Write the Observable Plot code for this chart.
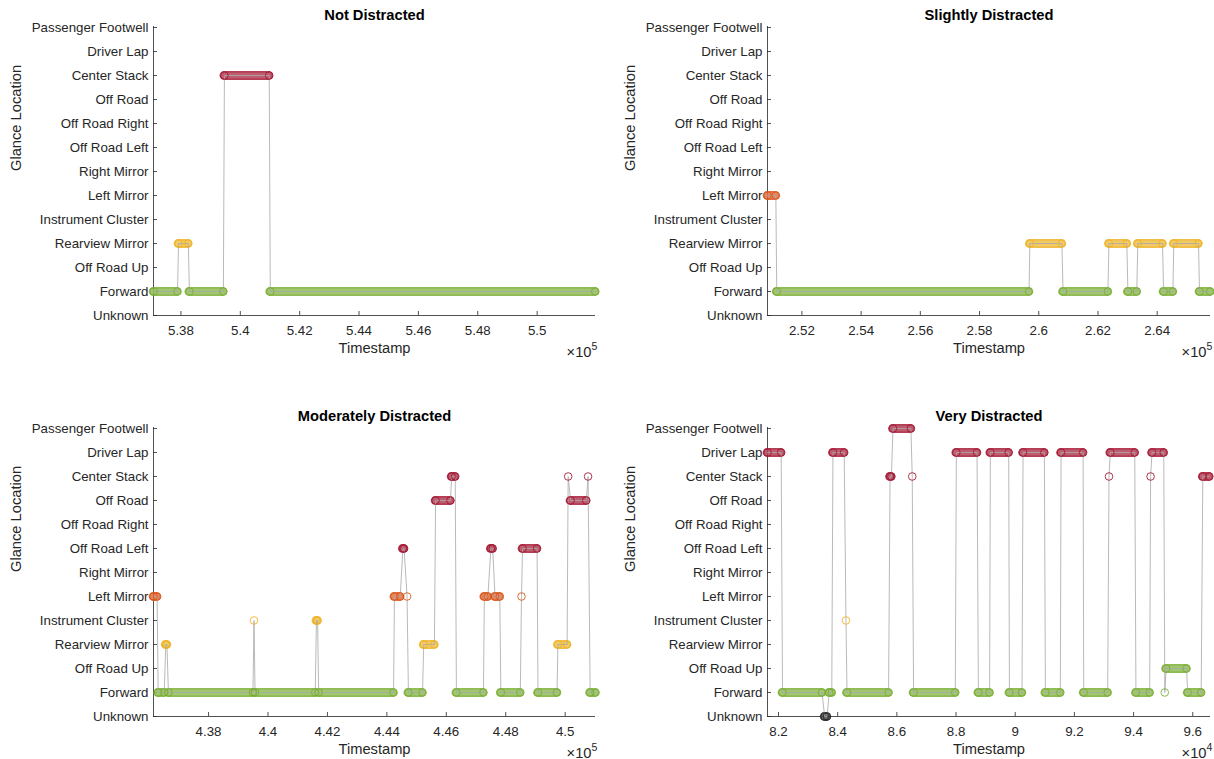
<!DOCTYPE html>
<html>
<head>
<meta charset="utf-8">
<script src="https://cdn.jsdelivr.net/npm/d3@7"></script>
<script src="https://cdn.jsdelivr.net/npm/@observablehq/plot@0.6"></script>
<style>
html, body { margin: 0; padding: 0; background: #fff; width: 1214px; height: 759px; overflow: hidden; }
#fig { position: relative; width: 1214px; height: 759px; }
.panel { position: absolute; }
svg { overflow: visible; }
</style>
</head>
<body>
<div id="fig"></div>
<script>
// ---------- categories (top to bottom) ----------
const LOCATIONS = [
  "Passenger Footwell", "Driver Lap", "Center Stack", "Off Road", "Off Road Right",
  "Off Road Left", "Right Mirror", "Left Mirror", "Instrument Cluster",
  "Rearview Mirror", "Off Road Up", "Forward", "Unknown"
];

// ---------- glance runs: [first timestamp, last timestamp, location] ----------
const NOT_DISTRACTED = [
  [537080, 537885, "Forward"],
  [537920, 538250, "Rearview Mirror"],
  [538285, 539430, "Forward"],
  [539465, 540975, "Center Stack"],
  [541010, 551960, "Forward"]
];

const SLIGHTLY_DISTRACTED = [
  [250840, 251120, "Left Mirror"],
  [251150, 259670, "Forward"],
  [259700, 260780, "Rearview Mirror"],
  [260820, 262335, "Forward"],
  [262370, 262975, "Rearview Mirror"],
  [263010, 263310, "Forward"],
  [263345, 264180, "Rearview Mirror"],
  [264215, 264530, "Forward"],
  [264560, 265395, "Rearview Mirror"],
  [265430, 265790, "Forward"]
];

const MODERATELY_DISTRACTED = [
  [436150, 436270, "Left Mirror"],
  [436305, 436510, "Forward"],
  [436560, 436600, "Rearview Mirror"],
  [436650, 439495, "Forward"],
  [439530, 439530, "Instrument Cluster"],
  [439565, 441590, "Forward"],
  [441630, 441670, "Instrument Cluster"],
  [441705, 444225, "Forward"],
  [444255, 444450, "Left Mirror"],
  [444540, 444580, "Off Road Left"],
  [444680, 444680, "Left Mirror"],
  [444725, 445200, "Forward"],
  [445240, 445600, "Rearview Mirror"],
  [445640, 446140, "Off Road"],
  [446180, 446300, "Center Stack"],
  [446340, 447250, "Forward"],
  [447280, 447400, "Left Mirror"],
  [447500, 447560, "Off Road Left"],
  [447640, 447800, "Left Mirror"],
  [447835, 448490, "Forward"],
  [448530, 448530, "Left Mirror"],
  [448565, 449055, "Off Road Left"],
  [449085, 449725, "Forward"],
  [449755, 450065, "Rearview Mirror"],
  [450100, 450100, "Center Stack"],
  [450180, 450710, "Off Road"],
  [450770, 450770, "Center Stack"],
  [450840, 451020, "Forward"]
];

const VERY_DISTRACTED = [
  [81630, 82090, "Driver Lap"],
  [82135, 83470, "Forward"],
  [83560, 83640, "Unknown"],
  [83715, 83800, "Forward"],
  [83840, 84220, "Driver Lap"],
  [84280, 84280, "Instrument Cluster"],
  [84315, 85720, "Forward"],
  [85770, 85815, "Center Stack"],
  [85870, 86475, "Passenger Footwell"],
  [86520, 86520, "Center Stack"],
  [86565, 87975, "Forward"],
  [88010, 88710, "Driver Lap"],
  [88755, 89135, "Forward"],
  [89160, 89780, "Driver Lap"],
  [89805, 90230, "Forward"],
  [90265, 90985, "Driver Lap"],
  [91020, 91525, "Forward"],
  [91550, 92295, "Driver Lap"],
  [92315, 93125, "Forward"],
  [93170, 93170, "Center Stack"],
  [93215, 94040, "Driver Lap"],
  [94080, 94545, "Forward"],
  [94575, 94575, "Center Stack"],
  [94625, 95020, "Driver Lap"],
  [95055, 95055, "Forward"],
  [95100, 95790, "Off Road Up"],
  [95830, 96285, "Forward"],
  [96340, 96560, "Center Stack"]
];

// ---------- panel titles, axis ranges and tick labels ----------
const TITLES = ["Not Distracted", "Slightly Distracted", "Moderately Distracted", "Very Distracted"];
const X_DOMAINS = [[537076, 551966], [250838, 265800], [436148, 451020], [81628, 96600]];
const X_TICKS = [
  [538000, 540000, 542000, 544000, 546000, 548000, 550000],
  [252000, 254000, 256000, 258000, 260000, 262000, 264000],
  [438000, 440000, 442000, 444000, 446000, 448000, 450000],
  [82000, 84000, 86000, 88000, 90000, 92000, 94000, 96000]
];
const X_TICK_LABELS = [
  ["5.38", "5.4", "5.42", "5.44", "5.46", "5.48", "5.5"],
  ["2.52", "2.54", "2.56", "2.58", "2.6", "2.62", "2.64"],
  ["4.38", "4.4", "4.42", "4.44", "4.46", "4.48", "4.5"],
  ["8.2", "8.4", "8.6", "8.8", "9", "9.2", "9.4", "9.6"]
];
const X_EXPONENTS = ["5", "5", "5", "4"];
const X_LABEL = "Timestamp";
const Y_LABEL = "Glance Location";

// ---------- styles ----------
const GREEN = "#77AC30", YELLOW = "#EDB120", ORANGE = "#D95319", RED = "#A2142F", BLACK = "#262626";
const LOCATION_COLORS = [RED, RED, RED, RED, RED, RED, ORANGE, ORANGE, YELLOW, YELLOW, GREEN, GREEN, BLACK];
const TEXT_COLOR = "#262626";
const FONT = "'Liberation Sans', Arial, Helvetica, sans-serif";

const ALL_RUNS = [NOT_DISTRACTED, SLIGHTLY_DISTRACTED, MODERATELY_DISTRACTED, VERY_DISTRACTED];
const LAYOUT = [
  {left: 0,   top: 0,   ml: 153, mr: 12},
  {left: 607, top: 0,   ml: 160, mr: 4},
  {left: 0,   top: 401, ml: 153, mr: 12},
  {left: 607, top: 401, ml: 160, mr: 4}
];

const fig = document.getElementById("fig");

ALL_RUNS.forEach((runs, i) => {
  const L = LAYOUT[i];
  const runObjs = runs.map(([s, e, loc]) => ({s, e, loc}));
  const pts = [];
  runObjs.forEach(r => {
    pts.push({t: r.s, loc: r.loc});
    if (r.e !== r.s) pts.push({t: r.e, loc: r.loc});
  });
  const bands = runObjs.filter(r => r.e > r.s);
  const tickMap = new Map(X_TICKS[i].map((v, k) => [v, X_TICK_LABELS[i][k]]));
  const dom = X_DOMAINS[i];

  const chart = Plot.plot({
    width: 607,
    height: 358,
    marginLeft: L.ml,
    marginRight: L.mr,
    marginTop: 26,
    marginBottom: 43,
    style: {fontFamily: FONT, fontSize: "13.3px", color: TEXT_COLOR, background: "transparent", overflow: "visible"},
    x: {domain: dom, axis: null},
    y: {type: "point", domain: LOCATIONS, padding: 0, axis: null},
    color: {type: "ordinal", domain: LOCATIONS, range: LOCATION_COLORS},
    marks: [
      // axis lines
      Plot.ruleX([dom[0]], {stroke: TEXT_COLOR, strokeWidth: 0.8}),
      Plot.ruleY(["Unknown"], {stroke: TEXT_COLOR, strokeWidth: 0.8}),
      // inward ticks
      Plot.axisY({tickSize: 4, dx: 4, tickFormat: () => "", label: null, stroke: TEXT_COLOR, strokeWidth: 0.8}),
      Plot.axisX({ticks: X_TICKS[i], tickSize: 4, dy: -4, tickFormat: () => "", label: null, stroke: TEXT_COLOR, strokeWidth: 0.8}),
      // tick labels
      Plot.axisY({tickSize: 0, tickPadding: 5, label: null, fontSize: 13.3, fill: TEXT_COLOR}),
      Plot.axisX({ticks: X_TICKS[i], tickSize: 0, tickPadding: 10, label: null, fontSize: 13.3, fill: TEXT_COLOR,
                  tickFormat: d => tickMap.get(d)}),
      // dense sample bands
      Plot.ruleY(bands, {y: "loc", x1: "s", x2: "e", stroke: "loc", strokeWidth: 8.8, strokeOpacity: 0.82, strokeLinecap: "round"}),
      Plot.ruleY(bands, {y: "loc", x1: "s", x2: "e", stroke: "white", strokeWidth: 5.6, strokeOpacity: 0.16, strokeLinecap: "round"}),
      // connecting line
      Plot.line(pts, {x: "t", y: "loc", stroke: "#a8a8a8", strokeWidth: 0.9, strokeOpacity: 0.9}),
      // sample markers
      Plot.dot(pts, {x: "t", y: "loc", r: 3.8, stroke: "loc", fill: "none", strokeWidth: 1, strokeOpacity: 0.85}),
      // texts
      Plot.text([TITLES[i]], {frameAnchor: "top", lineAnchor: "middle", dy: -11, fontWeight: "bold", fontSize: 14.7, fill: "#000"}),
      Plot.text([X_LABEL], {frameAnchor: "bottom", lineAnchor: "middle", dy: 33, fontSize: 14.7, fill: TEXT_COLOR}),
      Plot.text([Y_LABEL], {frameAnchor: "left", lineAnchor: "middle", rotate: -90, dx: -137, fontSize: 14.7, fill: TEXT_COLOR}),
      Plot.text(["\u00d710"], {frameAnchor: "bottom-right", lineAnchor: "middle", textAnchor: "end", dx: -4, dy: 37, fontSize: 14.7, fill: TEXT_COLOR}),
      Plot.text([X_EXPONENTS[i]], {frameAnchor: "bottom-right", lineAnchor: "middle", textAnchor: "start", dx: -4, dy: 31, fontSize: 10.5, fill: TEXT_COLOR})
    ]
  });
  const wrap = document.createElement("div");
  wrap.className = "panel";
  wrap.style.left = L.left + "px";
  wrap.style.top = L.top + "px";
  wrap.appendChild(chart);
  fig.appendChild(wrap);
});
</script>
</body>
</html>
